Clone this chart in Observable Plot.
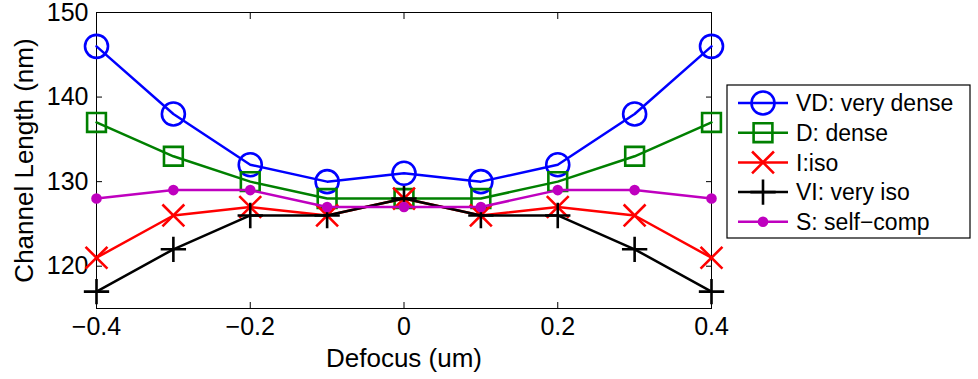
<!DOCTYPE html>
<html>
<head>
<meta charset="utf-8">
<script src="https://cdn.jsdelivr.net/npm/d3@7"></script>
<script src="https://cdn.jsdelivr.net/npm/@observablehq/plot@0.6"></script>
<style>
  html, body { margin: 0; padding: 0; background: #fff; }
  #chart { width: 978px; height: 379px; }
</style>
</head>
<body>
<div id="chart"></div>
<script>
// ---- data ----
const defocus = [-0.4, -0.3, -0.2, -0.1, 0, 0.1, 0.2, 0.3, 0.4];
const veryDense = [146, 138, 132, 130, 131, 130, 132, 138, 146];
const dense     = [137, 133, 130, 128, 128, 128, 130, 133, 137];
const iso       = [121, 126, 127, 126, 128, 126, 127, 126, 121];
const veryIso   = [117, 122, 126, 126, 128, 126, 126, 122, 117];
const selfComp  = [128, 129, 129, 127, 127, 127, 129, 129, 128];
const seriesNames = ["VD: very dense", "D: dense", "I:iso", "VI: very iso", "S: self\u2212comp"];
const xTicks = [-0.4, -0.2, 0, 0.2, 0.4];
const yTicks = [120, 130, 140, 150];

const seriesValues = [veryDense, dense, iso, veryIso, selfComp];
const styles = [
  {color: "#0000ff", symbol: "circle", r: 11.5, fill: "none"},
  {color: "#008000", symbol: "square", r: 10.6, fill: "none"},
  {color: "#ff0000", symbol: "times",  r: 10,   fill: "none"},
  {color: "#000000", symbol: "plus",   r: 8.2,  fill: "none"},
  {color: "#bf00bf", symbol: "circle", r: 4,    fill: "#bf00bf"}
];

const series = seriesNames.map((name, i) => ({
  name, style: styles[i],
  rows: defocus.map((x, j) => ({x, y: seriesValues[i][j]}))
}));

const FONT = "'Liberation Sans', Arial, Helvetica, sans-serif";
const fmt = d => d === 0 ? "0" : d3.format(".1f")(d);

const marks = [];
for (const s of series) {
  marks.push(Plot.line(s.rows, {x: "x", y: "y", stroke: s.style.color, strokeWidth: 2.5}));
  marks.push(Plot.dot(s.rows, {x: "x", y: "y", symbol: s.style.symbol, r: s.style.r,
    stroke: s.style.color, fill: s.style.fill, strokeWidth: 2.6}));
}

const chart = Plot.plot({
  width: 978,
  height: 379,
  marginLeft: 96,
  marginRight: 267,
  marginTop: 12,
  marginBottom: 71,
  style: {fontFamily: FONT, fontSize: "25px", background: "#fff", color: "#000", overflow: "visible"},
  x: {domain: [-0.4, 0.4]},
  y: {domain: [115, 150]},
  marks: [
    Plot.frame({stroke: "#000", strokeWidth: 1}),
    // inward ticks on all four sides
    Plot.axisX(xTicks, {anchor: "bottom", tickSize: 6, dy: -6, fill: "none", label: null}),
    Plot.axisX(xTicks, {anchor: "top", tickSize: 6, dy: 6, fill: "none", label: null}),
    Plot.axisY(yTicks, {anchor: "left", tickSize: 6, dx: 6, fill: "none", label: null}),
    Plot.axisY(yTicks, {anchor: "right", tickSize: 6, dx: -6, fill: "none", label: null}),
    // tick labels
    Plot.axisX(xTicks, {anchor: "bottom", tickSize: 0, tickPadding: 9, tickFormat: fmt, label: null, fontSize: 25}),
    Plot.axisY(yTicks, {anchor: "left", tickSize: 0, tickPadding: 8, label: null, fontSize: 25}),
    // axis titles
    Plot.text(["Defocus (um)"], {frameAnchor: "bottom", dy: 40, lineAnchor: "top", fontSize: 26}),
    Plot.text(["Channel Length (nm)"], {frameAnchor: "left", dx: -82, rotate: -90, lineAnchor: "top", textAnchor: "middle", fontSize: 26}),
    ...marks
  ]
});

document.getElementById("chart").appendChild(chart);

// ---- legend (drawn into the same SVG) ----
const svg = d3.select(chart);
const lg = svg.append("g").attr("font-family", FONT).attr("font-size", 23).attr("text-anchor", "start");
const box = {x: 727, y: 85, w: 243, h: 153};
lg.append("rect").attr("x", box.x).attr("y", box.y).attr("width", box.w).attr("height", box.h)
  .attr("fill", "#fff").attr("stroke", "#000").attr("stroke-width", 1.2);
const rowY0 = 103, rowStep = 29.7, lineX1 = 738, lineX2 = 788, textX = 796;
const symbolMap = {circle: d3.symbolCircle, square: d3.symbolSquare, times: d3.symbolTimes, plus: d3.symbolPlus};
series.forEach((s, i) => {
  const y = rowY0 + i * rowStep;
  const g = lg.append("g");
  g.append("line").attr("x1", lineX1).attr("x2", lineX2).attr("y1", y).attr("y2", y)
    .attr("stroke", s.style.color).attr("stroke-width", 2.5);
  g.append("path")
    .attr("d", d3.symbol(symbolMap[s.style.symbol], Math.PI * s.style.r * s.style.r)())
    .attr("transform", `translate(${(lineX1 + lineX2) / 2},${y})`)
    .attr("fill", s.style.fill).attr("stroke", s.style.color).attr("stroke-width", 2.6);
  g.append("text").attr("x", textX).attr("y", y).attr("dy", "0.36em").attr("fill", "#000").text(s.name);
});
</script>
</body>
</html>
